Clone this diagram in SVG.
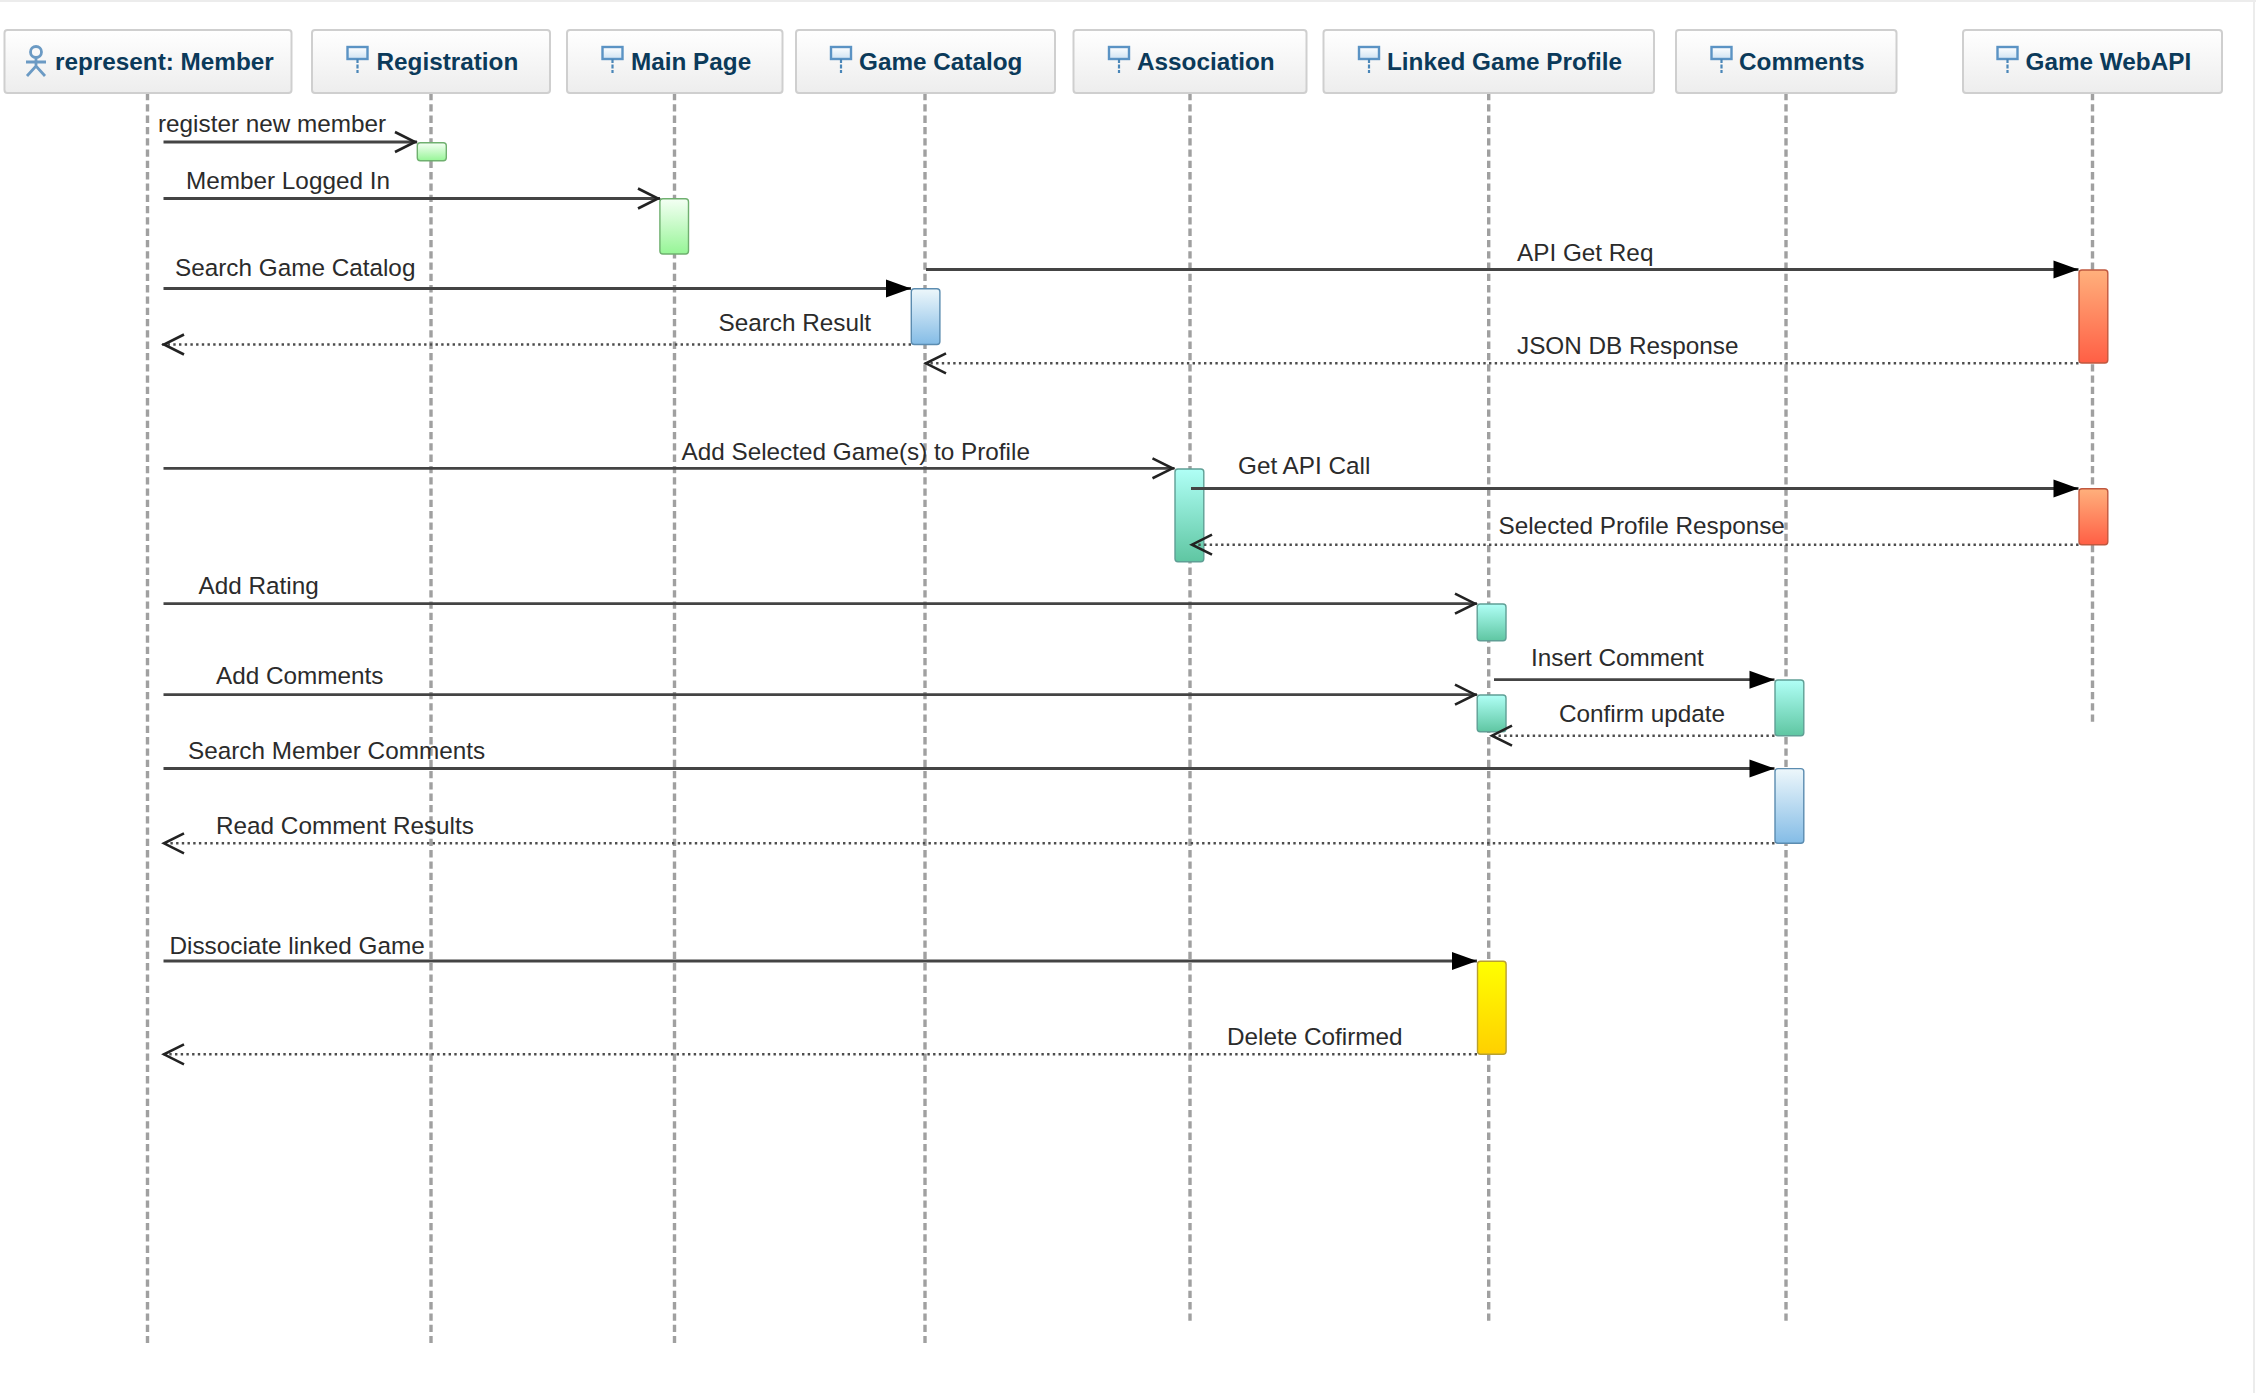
<svg xmlns="http://www.w3.org/2000/svg" width="2256" height="1393" viewBox="0 0 2256 1393">
<style>
text{font-family:"Liberation Sans",Arial,sans-serif}
.head{fill:url(#gHead);stroke:#cfcfcf;stroke-width:2}
.name{font-size:24.3px;font-weight:bold;fill:#0b3a5a}
.life{fill:none;stroke:#a0a0a0;stroke-width:3.4;stroke-dasharray:7.300 4}
.bar{stroke-width:1.4}
.msg{fill:none;stroke:#444;stroke-width:2.8}
.ret{fill:none;stroke:#4d4d4d;stroke-width:2.5;stroke-dasharray:2.4 3.3}
.lbl{font-size:24.3px;fill:#2b2b2b}
.ico{fill:url(#gIcon);stroke:#5b93c4;stroke-width:2.4}
.stem{fill:none;stroke:#4a86b8;stroke-width:2.2;stroke-dasharray:4 1.5}
.act{fill:none;stroke:#6b9ac4;stroke-width:2.8}
</style>
<defs>
<linearGradient id="gHead" x1="0" y1="0" x2="0" y2="1"><stop offset="0" stop-color="#ffffff"/><stop offset="1" stop-color="#ededed"/></linearGradient>
<linearGradient id="gIcon" x1="0" y1="0" x2="0" y2="1"><stop offset="0" stop-color="#ffffff"/><stop offset="1" stop-color="#cfe3f3"/></linearGradient>
<linearGradient id="gGreen" x1="0" y1="0" x2="0" y2="1"><stop offset="0" stop-color="#f4fff4"/><stop offset="1" stop-color="#96f596"/></linearGradient>
<linearGradient id="gBlue" x1="0" y1="0" x2="0" y2="1"><stop offset="0" stop-color="#edf7fb"/><stop offset="1" stop-color="#84bce6"/></linearGradient>
<linearGradient id="gOrange" x1="0" y1="0" x2="0" y2="1"><stop offset="0" stop-color="#ffb07c"/><stop offset="1" stop-color="#ff5f45"/></linearGradient>
<linearGradient id="gTeal" x1="0" y1="0" x2="0" y2="1"><stop offset="0" stop-color="#b0fff6"/><stop offset="1" stop-color="#5fc6a2"/></linearGradient>
<linearGradient id="gYellow" x1="0" y1="0" x2="0" y2="1"><stop offset="0" stop-color="#ffff00"/><stop offset="1" stop-color="#ffd000"/></linearGradient>
<marker id="open" markerUnits="userSpaceOnUse" markerWidth="26" markerHeight="26" refX="23" refY="12" orient="auto"><path d="M1,2 L21,12 L1,22" fill="none" stroke="#222" stroke-width="2.6"/></marker>
<marker id="solid" markerUnits="userSpaceOnUse" markerWidth="28" markerHeight="22" refX="26" refY="10" orient="auto"><path d="M1,1 L26,10 L1,19 Z" fill="#000"/></marker>
<g id="ik"><rect class="ico" x="0" y="0" width="20" height="12"/><path class="stem" d="M10,12 V26"/></g>
</defs>
<rect width="2256" height="1393" fill="#ffffff"/>
<path d="M0,1 H2256 M2254,0 V1393" fill="none" stroke="#ececec" stroke-width="2"/>

<g id="node-member">
<path class="life" d="M147.5,93 V1343"/>
<rect class="head" x="4.5" y="30" width="287" height="63" rx="3"/>
<g><circle class="act" cx="36" cy="52" r="5.5"/><path class="act" d="M36,58 V66 M26,62 H46 M27,76 L36,66 L45,76"/></g>
<text class="name" x="55" y="69.5">represent: Member</text>
</g>
<g id="node-registration">
<path class="life" d="M431,93 V1343"/>
<rect class="head" x="312" y="30" width="238" height="63" rx="3"/>
<use href="#ik" x="347.5" y="47"/>
<text class="name" x="376.500" y="69.5">Registration</text>
<rect class="bar" x="417.300" y="142.800" width="29" height="18" rx="3" fill="url(#gGreen)" stroke="#6fb06f"/>
</g>
<g id="node-mainpage">
<path class="life" d="M674.5,93 V1343"/>
<rect class="head" x="567" y="30" width="215.500" height="63" rx="3"/>
<use href="#ik" x="602.500" y="47"/>
<text class="name" x="631" y="69.5">Main Page</text>
<rect class="bar" x="659.900" y="198.800" width="28.600" height="55.200" rx="3" fill="url(#gGreen)" stroke="#6fb06f"/>
</g>
<g id="node-catalog">
<path class="life" d="M925,93 V1343"/>
<rect class="head" x="796" y="30" width="259" height="63" rx="3"/>
<use href="#ik" x="831" y="47"/>
<text class="name" x="859" y="69.5">Game Catalog</text>
<rect class="bar" x="911.300" y="288.800" width="28.600" height="55.700" rx="3" fill="url(#gBlue)" stroke="#5b8cb0"/>
</g>
<g id="node-association">
<path class="life" d="M1190,93 V1323"/>
<rect class="head" x="1073.500" y="30" width="233" height="63" rx="3"/>
<use href="#ik" x="1109" y="47"/>
<text class="name" x="1137" y="69.5">Association</text>
<rect class="bar" x="1175" y="469" width="28.800" height="92.700" rx="3" fill="url(#gTeal)" stroke="#5f9f95"/>
</g>
<g id="node-linked">
<path class="life" d="M1488.700,93 V1323"/>
<rect class="head" x="1323.500" y="30" width="330.500" height="63" rx="3"/>
<use href="#ik" x="1359" y="47"/>
<text class="name" x="1387" y="69.5">Linked Game Profile</text>
<rect class="bar" x="1477.200" y="604" width="28.800" height="36.700" rx="3" fill="url(#gTeal)" stroke="#5f9f95"/>
<rect class="bar" x="1477.200" y="695" width="28.800" height="36.700" rx="3" fill="url(#gTeal)" stroke="#5f9f95"/>
<rect class="bar" x="1477.500" y="961.300" width="28.600" height="93" rx="3" fill="url(#gYellow)" stroke="#b8a030"/>
</g>
<g id="node-comments">
<path class="life" d="M1786,93 V1323"/>
<rect class="head" x="1676" y="30" width="220.500" height="63" rx="3"/>
<use href="#ik" x="1711.500" y="47"/>
<text class="name" x="1739" y="69.5">Comments</text>
<rect class="bar" x="1775" y="680" width="28.800" height="55.700" rx="3" fill="url(#gTeal)" stroke="#5f9f95"/>
<rect class="bar" x="1775" y="768.600" width="28.800" height="74.700" rx="3" fill="url(#gBlue)" stroke="#5b8cb0"/>
</g>
<g id="node-webapi">
<path class="life" d="M2092.500,93 V723"/>
<rect class="head" x="1963" y="30" width="259" height="63" rx="3"/>
<use href="#ik" x="1997.500" y="47"/>
<text class="name" x="2025.500" y="69.5">Game WebAPI</text>
<rect class="bar" x="2079" y="270" width="28.800" height="93" rx="3" fill="url(#gOrange)" stroke="#c0583f"/>
<rect class="bar" x="2079" y="488.800" width="28.800" height="55.900" rx="3" fill="url(#gOrange)" stroke="#c0583f"/>
</g>

<g id="connectors">
<path class="msg" marker-end="url(#open)" d="M163.500,142 H417"/>
<path class="msg" marker-end="url(#open)" d="M163.500,198.500 H660"/>
<path class="msg" marker-end="url(#solid)" d="M163.500,288.500 H911"/>
<path class="ret" marker-end="url(#open)" d="M911,344.500 H162"/>
<path class="msg" marker-end="url(#solid)" d="M926,269.500 H2078.500"/>
<path class="ret" marker-end="url(#open)" d="M2078.500,363.300 H924"/>
<path class="msg" marker-end="url(#open)" d="M163.500,468.300 H1174.500"/>
<path class="msg" marker-end="url(#solid)" d="M1191,488.500 H2078.500"/>
<path class="ret" marker-end="url(#open)" d="M2078.500,544.700 H1190"/>
<path class="msg" marker-end="url(#open)" d="M163.500,603.700 H1477"/>
<path class="msg" marker-end="url(#solid)" d="M1494,679.700 H1774.500"/>
<path class="msg" marker-end="url(#open)" d="M163.500,694.700 H1477"/>
<path class="ret" marker-end="url(#open)" d="M1774.500,735.700 H1490"/>
<path class="msg" marker-end="url(#solid)" d="M163.500,768.500 H1774.500"/>
<path class="ret" marker-end="url(#open)" d="M1774.500,843.300 H162"/>
<path class="msg" marker-end="url(#solid)" d="M163.500,961 H1477"/>
<path class="ret" marker-end="url(#open)" d="M1477,1054.300 H162"/>
<text class="lbl" x="158" y="132">register new member</text>
<text class="lbl" x="186" y="189">Member Logged In</text>
<text class="lbl" x="175" y="276">Search Game Catalog</text>
<text class="lbl" x="718.500" y="331">Search Result</text>
<text class="lbl" x="1517" y="260.500">API Get Req</text>
<text class="lbl" x="1517" y="354">JSON DB Response</text>
<text class="lbl" x="681.500" y="460">Add Selected Game(s) to Profile</text>
<text class="lbl" x="1238" y="474">Get API Call</text>
<text class="lbl" x="1498.500" y="534">Selected Profile Response</text>
<text class="lbl" x="198.500" y="594">Add Rating</text>
<text class="lbl" x="1531" y="666">Insert Comment</text>
<text class="lbl" x="216" y="684">Add Comments</text>
<text class="lbl" x="1559" y="722">Confirm update</text>
<text class="lbl" x="188" y="759">Search Member Comments</text>
<text class="lbl" x="216" y="834">Read Comment Results</text>
<text class="lbl" x="169.500" y="954">Dissociate linked Game</text>
<text class="lbl" x="1227" y="1045">Delete Cofirmed</text>
</g>
</svg>
